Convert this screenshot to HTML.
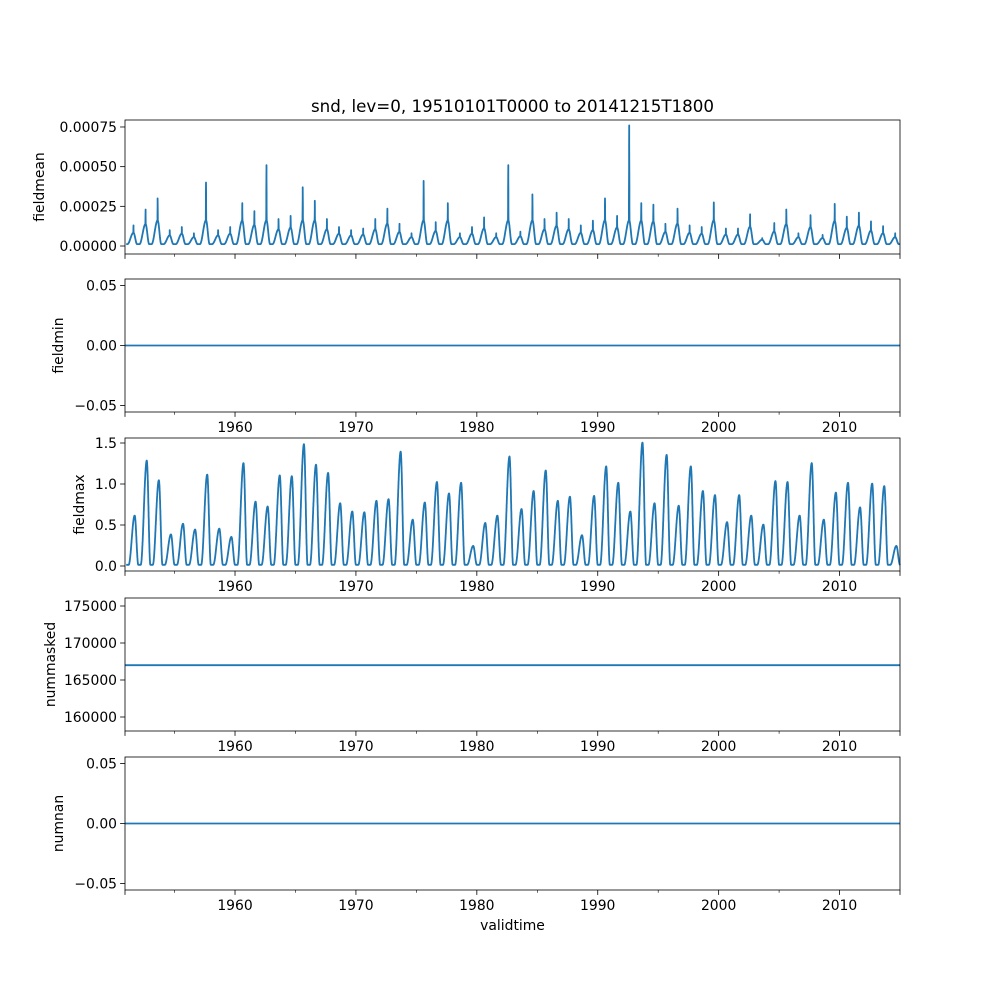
<!DOCTYPE html>
<html><head><meta charset="utf-8"><style>
body{margin:0;background:#fff}
svg{display:block;font-family:"DejaVu Sans","Liberation Sans",sans-serif}
</style></head><body>
<svg id="fig" width="1000" height="1000" viewBox="0 0 1000 1000" xmlns="http://www.w3.org/2000/svg">
<rect width="1000" height="1000" fill="#fff"/>
<text x="512.5" y="112" font-size="16.7" text-anchor="middle">snd, lev=0, 19510101T0000 to 20141215T1800</text>
<text x="512.5" y="930" font-size="13.9" text-anchor="middle">validtime</text>
</svg>
<script>
const years = [];
for (let y = 1951; y <= 2014; y++) years.push(y);
// fieldmean annual spike peaks (x1e-4)
const meanPeaks = [1.3,2.3,3.0,1.0,1.2,0.8,4.0,1.0,1.2,2.7,2.2,5.1,1.7,1.9,3.7,2.85,1.7,1.2,1.0,1.1,1.7,2.35,1.4,0.8,4.1,1.5,2.7,0.8,1.2,1.8,0.8,5.1,0.9,3.25,1.7,2.1,1.7,1.3,1.6,3.0,1.9,7.6,2.7,2.6,1.4,2.35,1.3,1.2,2.75,1.1,1.1,2.0,0.5,1.45,2.3,0.8,1.95,0.7,2.65,1.85,2.1,1.55,1.25,0.8];
// fieldmax annual peaks
const maxPeaks = [0.6,1.27,1.03,0.37,0.5,0.43,1.1,0.44,0.34,1.24,0.77,0.71,1.09,1.08,1.47,1.22,1.12,0.75,0.65,0.64,0.78,0.8,1.38,0.55,0.76,1.01,0.87,1.0,0.23,0.51,0.6,1.32,0.68,0.9,1.15,0.78,0.83,0.36,0.84,1.2,1.0,0.65,1.49,0.75,1.34,0.72,1.2,0.9,0.85,0.52,0.85,0.6,0.49,1.02,1.01,0.6,1.24,0.55,0.88,1.0,0.7,0.99,0.96,0.23];
const fieldminValue = [0];
const nummaskedValue = [167000];
const numnanValue = [0];
const xTicks = [1960,1970,1980,1990,2000,2010];
const xMinor = [1955,1965,1975,1985,1995,2005];
const meanTicks = [0,0.00025,0.0005,0.00075];
const meanTickLabels = ["0.00000","0.00025","0.00050","0.00075"];
const zeroTicks = [-0.05,0,0.05];
const zeroTickLabels = ["\u22120.05","0.00","0.05"];
const maxTicks = [0,0.5,1,1.5];
const maxTickLabels = ["0.0","0.5","1.0","1.5"];
const maskTicks = [160000,165000,170000,175000];
const maskTickLabels = ["160000","165000","170000","175000"];

const NS="http://www.w3.org/2000/svg";
const svg=document.getElementById('fig');
const L=125,R=900,XMIN=1950.9,XMAX=2015.0;
const sx=t=>L+(t-XMIN)/(XMAX-XMIN)*(R-L);
function el(tag,attrs,parent){const e=document.createElementNS(NS,tag);for(const k in attrs)e.setAttribute(k,attrs[k]);(parent||svg).appendChild(e);return e;}

const panels=[
 {name:'fieldmean',top:120,bot:254,ymin:-0.0000504,ymax:0.000794,ticks:meanTicks,labels:meanTickLabels,lx:44},
 {name:'fieldmin',top:279,bot:412,ymin:-0.0555,ymax:0.0555,ticks:zeroTicks,labels:zeroTickLabels,lx:63},
 {name:'fieldmax',top:438,bot:571,ymin:-0.061,ymax:1.561,ticks:maxTicks,labels:maxTickLabels,lx:84},
 {name:'nummasked',top:598,bot:731,ymin:158108,ymax:176081,ticks:maskTicks,labels:maskTickLabels,lx:55},
 {name:'numnan',top:757,bot:890,ymin:-0.0555,ymax:0.0555,ticks:zeroTicks,labels:zeroTickLabels,lx:63}
];
function seasonShape(f){ // f = time relative to peak (years)
  if(f<-0.5||f>0.3) return 0;
  if(f<0) return 0.5-0.5*Math.cos(Math.PI*(f+0.5)/0.5);
  return 0.5+0.5*Math.cos(Math.PI*f/0.3);
}
panels.forEach((p,i)=>{
  const g=el('g',{});
  
  
  const sy=v=>p.bot-(v-p.ymin)/(p.ymax-p.ymin)*(p.bot-p.top);
  let pts=[];
  if(p.name==='fieldmean'){
    for(let k=0;k<years.length;k++){
      const pk=years[k]+0.6, s=meanPeaks[k]*1e-4, hump=Math.min(s*0.55,1.5e-4);
      for(let t=years[k];t<years[k]+1;t+=0.005){
        let v=0.000012+hump*seasonShape(t-pk);
        const d=Math.abs(t-pk);
        if(d<0.03) v=Math.max(v,s*(1-d/0.03));
        pts.push([sx(t),sy(v)]);
      }
    }
  } else if(p.name==='fieldmax'){
    for(let k=0;k<years.length;k++){
      const pk=years[k]+0.7, s=maxPeaks[k];
      for(let t=years[k];t<years[k]+1;t+=0.005){
        pts.push([sx(t),sy(0.015+s*seasonShape(t-pk))]);
      }
    }
  } else {
    const v=p.name==='nummasked'?nummaskedValue[0]:(p.name==='fieldmin'?fieldminValue[0]:numnanValue[0]);
    pts=[[L,sy(v)],[R,sy(v)]];
  }
  pts=pts.filter(q=>q[0]>=L&&q[0]<=R);
  const line=el('polyline',{points:pts.map(q=>q[0].toFixed(1)+','+q[1].toFixed(1)).join(' '),fill:'none',stroke:'#1f77b4','stroke-width':1.8,'stroke-linejoin':'round'},g);
  
  
  const fr=el('rect',{x:L,y:p.top,width:R-L,height:p.bot-p.top,fill:'none',stroke:'#000','stroke-width':0.8},g);
  
  
  p.ticks.forEach((v,j)=>{
    const y=sy(v);
    el('line',{x1:L-4.9,x2:L,y1:y,y2:y,stroke:'#000','stroke-width':0.8},g);
    const t=el('text',{x:L-8,y:y+5,'font-size':13.9,'text-anchor':'end'},g);
    t.textContent=p.labels[j];
    
    
  });
  const yl=el('text',{x:p.lx,y:(p.top+p.bot)/2,'font-size':13.9,'text-anchor':'middle',transform:'rotate(-90 '+p.lx+' '+(p.top+p.bot)/2+')'},g);
  yl.textContent=p.name;
  
  
  xTicks.forEach(v=>{
    const x=sx(v);
    el('line',{x1:x,x2:x,y1:p.bot,y2:p.bot+4.9,stroke:'#000','stroke-width':0.8},g);
    if(i>0){
      const t=el('text',{x:x,y:p.bot+20,'font-size':13.9,'text-anchor':'middle'},g);
      t.textContent=v;
      
      
    }
  });
  xMinor.forEach(v=>{const x=sx(v);el('line',{x1:x,x2:x,y1:p.bot,y2:p.bot+2.8,stroke:'#000','stroke-width':0.6},g);});
  el('line',{x1:L,x2:L,y1:p.bot,y2:p.bot+4.9,stroke:'#000','stroke-width':0.8},g);
  el('line',{x1:R,x2:R,y1:p.bot,y2:p.bot+4.9,stroke:'#000','stroke-width':0.8},g);
});
</script>
</body></html>
